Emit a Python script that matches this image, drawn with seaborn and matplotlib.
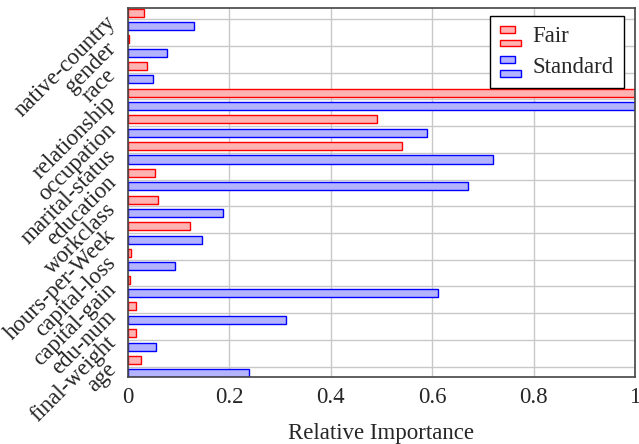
import pandas as pd
import seaborn as sns
import matplotlib.pyplot as plt
from matplotlib.patches import Rectangle, Patch
from matplotlib.legend_handler import HandlerBase

# --- データ（上から下の順） ---
features = ['native-country', 'gender', 'race', 'relationship', 'occupation',
            'marital-status', 'education', 'workclass', 'hours-per-Week',
            'capital-loss', 'capital-gain', 'edu-num', 'final-weight', 'age']
fair = [0.032, 0.002, 0.037, 1.0, 0.492, 0.541, 0.054, 0.060, 0.123,
        0.005, 0.003, 0.015, 0.016, 0.026]
standard = [0.131, 0.076, 0.050, 1.0, 0.590, 0.720, 0.671, 0.187, 0.145,
            0.093, 0.611, 0.312, 0.055, 0.238]
models = ['Fair', 'Standard']
x_ticks = [0, 0.2, 0.4, 0.6, 0.8, 1.0]
x_ticklabels = ['0', '0.2', '0.4', '0.6', '0.8', '1']

fill_colors = {'Fair': '#ffb3b3', 'Standard': '#b3b3ff'}
edge_colors = {'Fair': '#ff0000', 'Standard': '#0000ff'}

df = pd.DataFrame({
    'feature': features * 2,
    'value': fair + standard,
    'model': ['Fair'] * len(features) + ['Standard'] * len(features),
})


class HandlerTwoBars(HandlerBase):
    # pgfplots風の凡例（小さい棒を2本）
    def create_artists(self, legend, orig_handle, xdescent, ydescent,
                       width, height, fontsize, trans):
        fc = orig_handle.get_facecolor()
        ec = orig_handle.get_edgecolor()
        h = height * 0.42
        r1 = Rectangle((-xdescent, -ydescent + height * 0.6), width * 0.72, h,
                       facecolor=fc, edgecolor=ec, lw=1, transform=trans)
        r2 = Rectangle((-xdescent, -ydescent - height * 0.25), width, h,
                       facecolor=fc, edgecolor=ec, lw=1, transform=trans)
        return [r1, r2]


sns.set_style('whitegrid', {'grid.color': '#c8c8c8', 'axes.edgecolor': '#444444'})
plt.rcParams['font.family'] = ['Liberation Serif', 'DejaVu Serif']
plt.rcParams['font.size'] = 16.5

fig = plt.figure(figsize=(6.39, 4.44), dpi=100)
ax = fig.add_axes([128 / 639, 1 - 377 / 444, 507 / 639, 369 / 444])

sns.barplot(data=df, x='value', y='feature', hue='model', order=features,
            hue_order=models, palette=fill_colors, saturation=1, width=1.0,
            gap=0.4, orient='h', linewidth=1, legend=False, ax=ax)
for container, m in zip(ax.containers, models):
    for bar in container:
        bar.set_edgecolor(edge_colors[m])

ax.set_xlim(0, 1)
ax.set_ylim(13.39, -0.42)
ax.set_xticks(x_ticks)
ax.set_xticklabels(x_ticklabels)
ax.set_ylabel('')
ax.set_xlabel('Relative Importance', labelpad=11)
ax.grid(True, color='#c8c8c8', lw=1)
ax.set_axisbelow(True)
for s in ax.spines.values():
    s.set_color('#444444')
    s.set_linewidth(1.2)
ax.tick_params(axis='x', direction='in', length=7, width=1, color='#555555', pad=7)
ax.tick_params(axis='y', direction='out', length=7, width=1, color='#777777',
               pad=4)
for lab in ax.get_yticklabels():
    lab.set_rotation(45)
    lab.set_ha('right')
    lab.set_va('center')
    lab.set_rotation_mode('anchor')

handles = [Patch(facecolor=fill_colors[m], edgecolor=edge_colors[m]) for m in models]
leg = ax.legend(handles, models, loc='upper right', bbox_to_anchor=(0.978, 0.978),
                borderaxespad=0, handler_map={Patch: HandlerTwoBars()},
                frameon=True, fancybox=False, framealpha=1, edgecolor='black',
                handlelength=0.9, handletextpad=0.5, borderpad=0.45,
                labelspacing=0.4, fontsize=16.5)
leg.get_frame().set_linewidth(1)

fig.savefig('out.png', dpi=100)
